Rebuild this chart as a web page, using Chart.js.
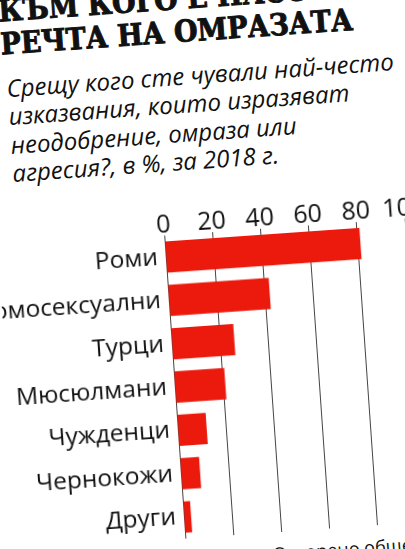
<!DOCTYPE html>
<html>
<head>
<meta charset="utf-8">
<script src="https://cdn.jsdelivr.net/npm/chart.js@4/dist/chart.umd.min.js"></script>
<style>
  html, body { margin: 0; padding: 0; background: #fff; overflow: hidden; width: 405px; height: 549px; }
  #page {
    position: absolute; left: 0; top: 0; width: 405px; height: 549px;
    transform: rotate(-4deg); transform-origin: 202px 274px;
  }
  .title {
    position: absolute; left: 17px; white-space: nowrap;
    font-family: "DejaVu Serif Condensed", "DejaVu Serif", serif; font-stretch: condensed;
    font-weight: bold; font-size: 30px; line-height: 30px; color: #111;
    -webkit-text-stroke: 0.9px #111;
  }
  #sub {
    position: absolute; left: 20px; top: 61px; white-space: nowrap;
    font-family: "Open Sans", sans-serif; font-style: italic; font-weight: 500;
    font-size: 24px; line-height: 28.3px; color: #111;
  }
  #source {
    position: absolute; left: 253px; top: 549px; white-space: nowrap;
    font-family: "Open Sans", sans-serif; font-size: 18px; line-height: 18px; color: #111;
  }
  #chart { position: absolute; left: 0; top: 190px; }
</style>
</head>
<body>
<div id="page">
  <div class="title" style="top:-17px">КЪМ КОГО Е НАСОЧЕНА</div>
  <div class="title" style="top:16px">РЕЧТА НА ОМРАЗАТА</div>
  <div id="sub">Срещу кого сте чували най-често<br>изказвания, които изразяват<br>неодобрение, омраза или<br>агресия?, в %, за 2018 г.</div>
  <canvas id="chart" width="433" height="347"></canvas>
  <div id="source">Отворено общество</div>
</div>
<script>
// данни
const categories = ["Роми", "Хомосексуални", "Турци", "Мюсюлмани", "Чужденци", "Чернокожи", "Други"];
const values = [81, 42, 26, 21, 12, 8, 3];
const xTicks = [0, 20, 40, 60, 80, 100];

const ctx = document.getElementById("chart").getContext("2d");

new Chart(ctx, {
  type: "bar",
  data: {
    labels: categories,
    datasets: [{
      data: values,
      backgroundColor: "#ec1a0c",
      borderWidth: 0,
      barPercentage: 0.72,
      categoryPercentage: 1,
    }],
  },
  options: {
    indexAxis: "y",
    responsive: false,
    animation: false,
    devicePixelRatio: 1,
    layout: { padding: { left: 0, right: 25, top: 0, bottom: 0 } },
    plugins: { legend: { display: false }, tooltip: { enabled: false } },
    scales: {
      x: {
        position: "top",
        min: xTicks[0],
        max: xTicks[xTicks.length - 1],
        afterBuildTicks: (scale) => { scale.ticks = xTicks.map((v) => ({ value: v })); },
        afterFit: (scale) => { scale.height = 43; },
        border: { display: false },
        grid: { color: "#444", lineWidth: 1, drawTicks: false },
        ticks: {
          padding: -5,
          maxRotation: 0,
          minRotation: 0,
          autoSkip: false,
          color: "#111",
          font: { family: "Open Sans", size: 25 },
        },
      },
      y: {
        // etiketite ne dobavyat otstap gore/dolu
        afterFit: (scale) => {
          scale.width = 167;
          scale.paddingTop = 0;
          scale.paddingBottom = 0;
        },
        border: { display: false },
        grid: { display: false, drawTicks: false },
        ticks: {
          padding: 8,
          color: "#111",
          font: { family: "Open Sans", size: 24.5, weight: "500" },
        },
      },
    },
  },
});
</script>
</body>
</html>
